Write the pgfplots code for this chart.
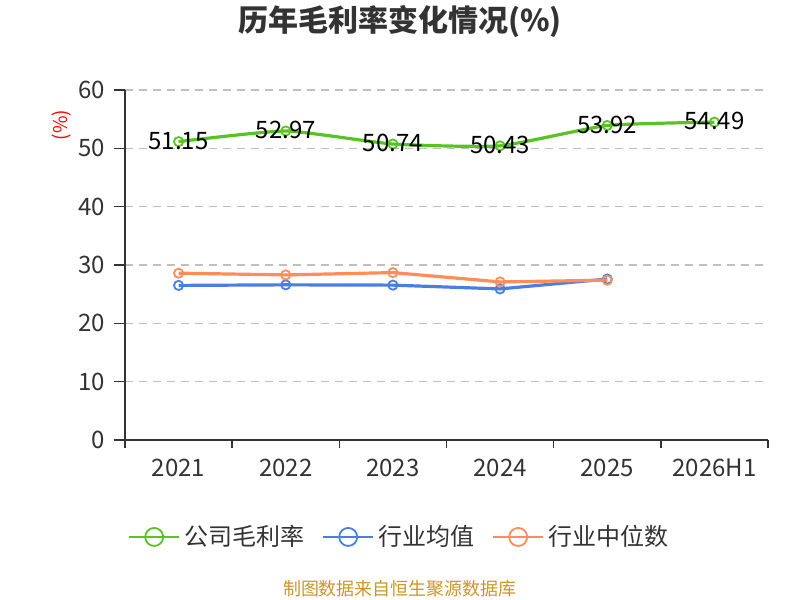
\documentclass[border=0pt]{standalone}
\usepackage{pgfplots}
\pgfplotsset{compat=1.18}
\usepackage{fontspec}
\setmainfont{Noto Sans CJK SC}
\definecolor{cgreen}{RGB}{88,196,34}
\definecolor{cblue}{RGB}{74,126,226}
\definecolor{corange}{RGB}{255,140,90}
\definecolor{ctext}{RGB}{51,51,51}
\definecolor{cfoot}{RGB}{204,150,40}
\begin{document}
\begin{tikzpicture}
\path[use as bounding box] (0,0) rectangle (400pt,300pt);
\begin{axis}[
  at={(62.5pt,80pt)}, anchor=south west,
  scale only axis, width=321.5pt, height=175pt,
  xmin=-0.5, xmax=5.5, ymin=0, ymax=60,
  xtick={0,1,2,3,4,5},
  xticklabels={2021,2022,2023,2024,2025,2026H1},
  minor xtick={-0.5,0.5,1.5,2.5,3.5,4.5,5.5},
  ytick={0,10,20,30,40,50,60},
  axis lines*=left,
  axis line style={ctext, line width=0.8pt},
  tick align=outside,
  major tick length=5.5pt, minor tick length=4pt,
  xtick style={draw=none},
  minor x tick style={draw=ctext, line width=0.8pt},
  ytick style={ctext, line width=0.8pt},
  ymajorgrids, grid style={dash pattern=on 4pt off 3pt, gray!50, line width=0.7pt},
  ticklabel style={font=\fontsize{12pt}{14pt}\selectfont, text=ctext},
  yticklabel style={xshift=-1pt},
  xticklabel style={yshift=-0.5pt},
  /pgf/number format/assume math mode=true,
  clip=false,
  legend columns=3,
  legend style={at={(0.428,-0.277)}, anchor=center, draw=none,
    font=\fontsize{12pt}{14pt}\selectfont, text=ctext,
    /tikz/every even column/.append style={column sep=7pt}},
  legend image code/.code={
    \draw[#1, line width=1pt] (0pt,0pt) -- (25pt,0pt);
    \draw[#1, mark repeat=1, line width=1pt, fill=white, mark size=4.5pt] plot coordinates {(12.5pt,0pt)};
  },
]
\addplot[cgreen, line width=1.6pt, smooth, tension=0.3, mark=o, mark size=2.3pt,
  mark options={fill=white, line width=0.9pt, solid},
  nodes near coords, point meta=explicit symbolic,
  every node near coord/.append style={anchor=center, yshift=0.5pt, text=black, font=\fontsize{12pt}{14pt}\selectfont}]
  coordinates {(0,51.15)[51.15] (1,52.97)[52.97] (2,50.74)[50.74] (3,50.43)[50.43] (4,53.92)[53.92] (5,54.49)[54.49]};
\addlegendentry{公司毛利率}
\addplot[cblue, line width=1.6pt, mark=o, mark size=2.3pt,
  mark options={fill=white, line width=0.9pt, solid}]
  coordinates {(0,26.5) (1,26.6) (2,26.55) (3,25.9) (4,27.6)};
\addlegendentry{行业均值}
\addplot[corange, line width=1.6pt, mark=o, mark size=2.3pt,
  mark options={fill=white, line width=0.9pt, solid}]
  coordinates {(0,28.6) (1,28.3) (2,28.7) (3,27.1) (4,27.4)};
\addlegendentry{行业中位数}
\node[rotate=90, text=red, font=\fontsize{9.5pt}{11pt}\selectfont] at (rel axis cs:-0.098,0.9) {(\%)};
\end{axis}
\node[font=\fontsize{15pt}{18pt}\selectfont\bfseries, text=ctext] at (200pt,289pt) {历年毛利率变化情况(\%)};
\node[font=\fontsize{9pt}{11pt}\selectfont, text=cfoot] at (200pt,5.5pt) {制图数据来自恒生聚源数据库};
\end{tikzpicture}
\end{document}
